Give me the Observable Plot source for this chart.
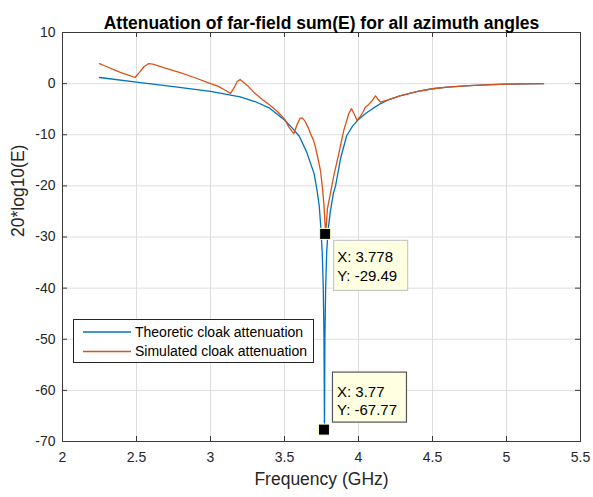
<!DOCTYPE html>
<html>
<head>
<meta charset="utf-8">
<script src="https://cdn.jsdelivr.net/npm/d3@7"></script>
<script src="https://cdn.jsdelivr.net/npm/@observablehq/plot@0.6"></script>
<style>
  html, body { margin: 0; padding: 0; background: #ffffff; }
  #chart svg { display: block; }
</style>
</head>
<body>
<div id="chart"></div>
<script>
// ---- data ----
const titleText = "Attenuation of far-field sum(E) for all azimuth angles";
const xLabel = "Frequency (GHz)";
const yLabel = "20*log10(E)";
const seriesNames = ["Theoretic cloak attenuation", "Simulated cloak attenuation"];
const seriesColors = ["#0072BD", "#D95319"];

const xTicks = [2, 2.5, 3, 3.5, 4, 4.5, 5, 5.5];
const yTicks = [10, 0, -10, -20, -30, -40, -50, -60, -70];

const theoryFreq = [2.25, 2.5, 2.75, 3.0, 3.2, 3.3, 3.4, 3.5, 3.55, 3.6, 3.65, 3.7, 3.72, 3.735, 3.745, 3.755, 3.762, 3.767, 3.77, 3.773, 3.778, 3.785, 3.795, 3.81, 3.83, 3.845, 3.88, 3.92, 3.96, 4.0, 4.05, 4.1, 4.15, 4.2, 4.28, 4.4, 4.5, 4.6, 4.75, 4.9, 5.0, 5.1, 5.25];
const theoryDb   = [1.2, 0.3, -0.6, -1.5, -2.6, -3.5, -4.8, -7.1, -8.6, -10.3, -13.4, -17.6, -20.9, -24, -28, -33, -40, -50, -67.77, -50, -40, -33, -28.5, -25, -21.5, -20, -14.5, -10.2, -8.3, -7.0, -5.8, -4.8, -3.9, -3.2, -2.4, -1.5, -1.0, -0.7, -0.4, -0.2, -0.1, -0.05, 0];

const simFreq = [2.25, 2.3, 2.35, 2.4, 2.45, 2.49, 2.52, 2.55, 2.58, 2.61, 2.7, 2.8, 2.9, 3.0, 3.05, 3.1, 3.135, 3.16, 3.18, 3.2, 3.25, 3.3, 3.35, 3.4, 3.45, 3.5, 3.53, 3.563, 3.585, 3.605, 3.62, 3.64, 3.66, 3.676, 3.695, 3.709, 3.725, 3.743, 3.755, 3.766, 3.778, 3.79, 3.81, 3.833, 3.867, 3.9, 3.934, 3.953, 3.97, 3.99, 4.01, 4.03, 4.047, 4.065, 4.09, 4.115, 4.13, 4.149, 4.2, 4.28, 4.4, 4.5, 4.6, 4.75, 4.9, 5.0, 5.1, 5.25];
const simDb   = [3.9, 3.3, 2.7, 2.1, 1.6, 1.2, 2.2, 3.3, 3.9, 3.8, 3.0, 2.1, 1.1, 0.0, -0.5, -1.3, -1.9, -0.8, 0.4, 0.8, -0.4, -1.9, -3.1, -4.2, -5.4, -6.9, -8.5, -9.8, -8.0, -6.8, -6.7, -7.4, -8.6, -9.8, -11, -12.4, -14.5, -17, -20, -23.5, -29.49, -24.5, -21.5, -18, -13.7, -9.2, -5.9, -4.9, -5.9, -7.2, -6.5, -5.6, -4.6, -4.2, -3.4, -2.4, -3.0, -3.6, -3.2, -2.4, -1.5, -1.0, -0.7, -0.4, -0.2, -0.1, -0.05, 0];

const tipX = [3.778, 3.77];
const tipY = [-29.49, -67.77];
const tipLabelX = ["3.778", "3.77"];
const tipLabelY = ["-29.49", "-67.77"];

// ---- build tables ----
const theory = theoryFreq.map((f, i) => ({f, db: theoryDb[i]}));
const sim = simFreq.map((f, i) => ({f, db: simDb[i]}));

const W = 593, H = 497;
const mL = 62, mR = 13, mT = 32, mB = 56;
const frameW = W - mL - mR, frameH = H - mT - mB;
const font = "'Liberation Sans', Arial, Helvetica, sans-serif";
const axisColor = "#3a3a3a";

const plot = Plot.plot({
  width: W, height: H,
  marginLeft: mL, marginRight: mR, marginTop: mT, marginBottom: mB,
  style: {fontFamily: font, color: "#262626", background: "#ffffff", overflow: "visible"},
  x: {domain: [2, 5.5]},
  y: {domain: [-70, 10]},
  marks: [
    Plot.gridX(xTicks, {stroke: "#dedede", strokeOpacity: 1}),
    Plot.gridY(yTicks, {stroke: "#dedede", strokeOpacity: 1}),
    Plot.line(theory, {x: "f", y: "db", stroke: seriesColors[0], strokeWidth: 1.3}),
    Plot.line(sim, {x: "f", y: "db", stroke: seriesColors[1], strokeWidth: 1.3}),
    Plot.frame({stroke: axisColor, strokeWidth: 1}),
    Plot.tickX(xTicks, {x: d => d, insetTop: frameH - 5, stroke: axisColor}),
    Plot.tickX(xTicks, {x: d => d, insetBottom: frameH - 5, stroke: axisColor}),
    Plot.tickY(yTicks, {y: d => d, insetRight: frameW - 5, stroke: axisColor}),
    Plot.tickY(yTicks, {y: d => d, insetLeft: frameW - 5, stroke: axisColor}),
    Plot.axisX(xTicks, {tickSize: 0, tickPadding: 11, tickFormat: d => String(d), fontSize: 14, label: null, fill: "#262626"}),
    Plot.axisY(yTicks, {tickSize: 0, tickPadding: 7, tickFormat: d => String(d), fontSize: 14, label: null, fill: "#262626"}),
    Plot.text([titleText], {frameAnchor: "top", dy: -16, fontSize: 17.5, fontWeight: "bold", fill: "#000000"}),
    Plot.text([xLabel], {frameAnchor: "bottom", dy: 43, fontSize: 17.5, fill: "#262626"}),
    Plot.text([yLabel], {frameAnchor: "left", dx: -44, rotate: -90, fontSize: 17.5, fill: "#262626"})
  ]
});

document.getElementById("chart").appendChild(plot);

// ---- legend and data tips, positioned through the plot's scales ----
const svg = d3.select(plot);
const sx = plot.scale("x"), sy = plot.scale("y");

const lg = svg.append("g").attr("text-anchor", "start");
lg.append("rect").attr("x", 73.5).attr("y", 319.5).attr("width", 240).attr("height", 43)
  .attr("fill", "#ffffff").attr("stroke", "#262626").attr("stroke-width", 1);
seriesNames.forEach((name, i) => {
  const yy = 332 + i * 19.5;
  lg.append("line").attr("x1", 83).attr("x2", 131).attr("y1", yy).attr("y2", yy)
    .attr("stroke", seriesColors[i]).attr("stroke-width", 1.3);
  lg.append("text").attr("x", 135).attr("y", yy).attr("dy", "0.35em").attr("text-anchor", "start")
    .attr("font-family", font).attr("font-size", 14).attr("fill", "#000000").text(name);
});

const tipOffsets = [
  {bx: 8, by: 6, tx: 12, t1: 28, t2: 47, border: "#c8c8c8"},
  {bx: 8, by: -58, tx: 13, t1: -33, t2: -15, border: "#555555"}
];
tipX.forEach((xv, i) => {
  const mx = sx.apply(xv), my = sy.apply(tipY[i]);
  const o = tipOffsets[i];
  const g = svg.append("g").attr("text-anchor", "start");
  g.append("rect").attr("x", mx + o.bx + 0.5).attr("y", my + o.by + 0.5).attr("width", 74).attr("height", 50)
    .attr("fill", "#ffffe1").attr("stroke", o.border).attr("stroke-width", 1.2);
  g.append("text").attr("x", mx + o.tx).attr("y", my + o.t1).attr("text-anchor", "start")
    .attr("font-family", font).attr("font-size", 15).attr("fill", "#000000").text("X: " + tipLabelX[i]);
  g.append("text").attr("x", mx + o.tx).attr("y", my + o.t2).attr("text-anchor", "start")
    .attr("font-family", font).attr("font-size", 15).attr("fill", "#000000").text("Y: " + tipLabelY[i]);
  g.append("rect").attr("x", mx - 5.5).attr("y", my - 5.5).attr("width", 11).attr("height", 11)
    .attr("fill", "#000000").attr("stroke", "#ffffc0").attr("stroke-width", 1);
});
</script>
</body>
</html>
